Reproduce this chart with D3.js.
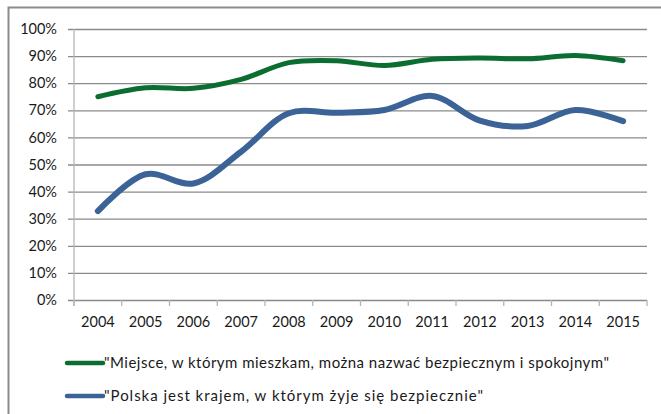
<!DOCTYPE html>
<html>
<head>
<meta charset="utf-8">
<script src="https://cdn.jsdelivr.net/npm/d3@7"></script>
<style>
  html, body { margin: 0; padding: 0; background: #fff; }
  svg { display: block; }
  text { font-family: Lato, "Open Sans", sans-serif; fill: #1a1a1a; }
</style>
</head>
<body>
<svg id="chart" width="661" height="414"></svg>
<script>
// Survey years
const years = ["2004","2005","2006","2007","2008","2009","2010","2011","2012","2013","2014","2015"];
// Share of respondents (%) agreeing with each statement
const placeSafe = [75, 78.3, 78.1, 81.4, 87.6, 88.3, 86.5, 88.8, 89.3, 89.0, 90.2, 88.3];
const countrySafe = [32.8, 46.4, 43.0, 54.7, 68.9, 69.1, 70.1, 75.3, 66.2, 64.2, 70.1, 66.0];
const seriesNames = [
  "\"Miejsce, w którym mieszkam, można nazwać bezpiecznym i spokojnym\"",
  "\"Polska jest krajem, w którym żyje się bezpiecznie\""
];
const seriesColors = ["#0b6e30", "#3b6398"];
const yTicks = [0, 10, 20, 30, 40, 50, 60, 70, 80, 90, 100];

const svg = d3.select("#chart");
const plot = { left: 74, right: 647, top: 29, bottom: 300 };

// outer frame
svg.append("rect")
  .attr("x", 8.5).attr("y", 7.5)
  .attr("width", 700).attr("height", 500)
  .attr("fill", "none").attr("stroke", "#8c8c8c").attr("stroke-width", 2);

const x = d3.scaleBand().domain(years).range([plot.left, plot.right]);
const y = d3.scaleLinear().domain([0, 100]).range([plot.bottom, plot.top]);

// horizontal gridlines with y tick labels
const yAxis = d3.axisLeft(y)
  .tickValues(yTicks)
  .tickFormat(d => d + "%")
  .tickSizeOuter(0)
  .tickPadding(11);
const gy = svg.append("g").attr("transform", `translate(${plot.left - 6},0)`).call(yAxis);
gy.select(".domain").remove();
gy.selectAll(".tick line")
  .attr("x1", 0)
  .attr("x2", plot.right - plot.left + 6)
  .attr("stroke", "#8a8a8a").attr("stroke-width", 1.3);
gy.selectAll(".tick text")
  .attr("x", -11)
  .style("font-size", "14.5px");

// vertical axis line
svg.append("line")
  .attr("x1", plot.left).attr("x2", plot.left)
  .attr("y1", plot.top).attr("y2", plot.bottom + 6)
  .attr("stroke", "#b5b5b5").attr("stroke-width", 1.3);

// x axis: ticks between categories and year labels
const xAxis = d3.axisBottom(x).tickSize(0).tickPadding(17);
const gx = svg.append("g").attr("transform", `translate(0,${plot.bottom})`).call(xAxis);
gx.select(".domain").remove();
gx.selectAll(".tick text").style("font-size", "14.5px");

const boundaries = years.map(d => x(d)).concat([plot.right]);
svg.append("g").selectAll("line").data(boundaries).join("line")
  .attr("x1", d => d).attr("x2", d => d)
  .attr("y1", plot.bottom).attr("y2", plot.bottom + 6)
  .attr("stroke", "#b5b5b5").attr("stroke-width", 1.3);

// smoothed series lines
const line = d3.line()
  .x((d, i) => x(years[i]) + x.bandwidth() / 2)
  .y(d => y(d))
  .curve(d3.curveCatmullRom.alpha(0.5));

[placeSafe, countrySafe].forEach((vals, i) => {
  svg.append("path")
    .datum(vals)
    .attr("d", line)
    .attr("fill", "none")
    .attr("stroke", seriesColors[i])
    .attr("stroke-width", i === 0 ? 5 : 6)
    .attr("stroke-linejoin", "round")
    .attr("stroke-linecap", "round");
});

// legend
const legendY = [363, 396];
const legendWidths = [505, 379];
seriesNames.forEach((name, i) => {
  const g = svg.append("g").attr("transform", `translate(0,${legendY[i]})`);
  g.append("line")
    .attr("x1", 67).attr("x2", 103)
    .attr("stroke", seriesColors[i]).attr("stroke-width", 4.5)
    .attr("stroke-linecap", "round");
  g.append("text")
    .attr("x", 104).attr("y", 0).attr("dy", "0.35em")
    .attr("textLength", legendWidths[i])
    .attr("lengthAdjust", "spacing")
    .style("font-size", "15px")
    .text(name);
});
</script>
</body>
</html>
